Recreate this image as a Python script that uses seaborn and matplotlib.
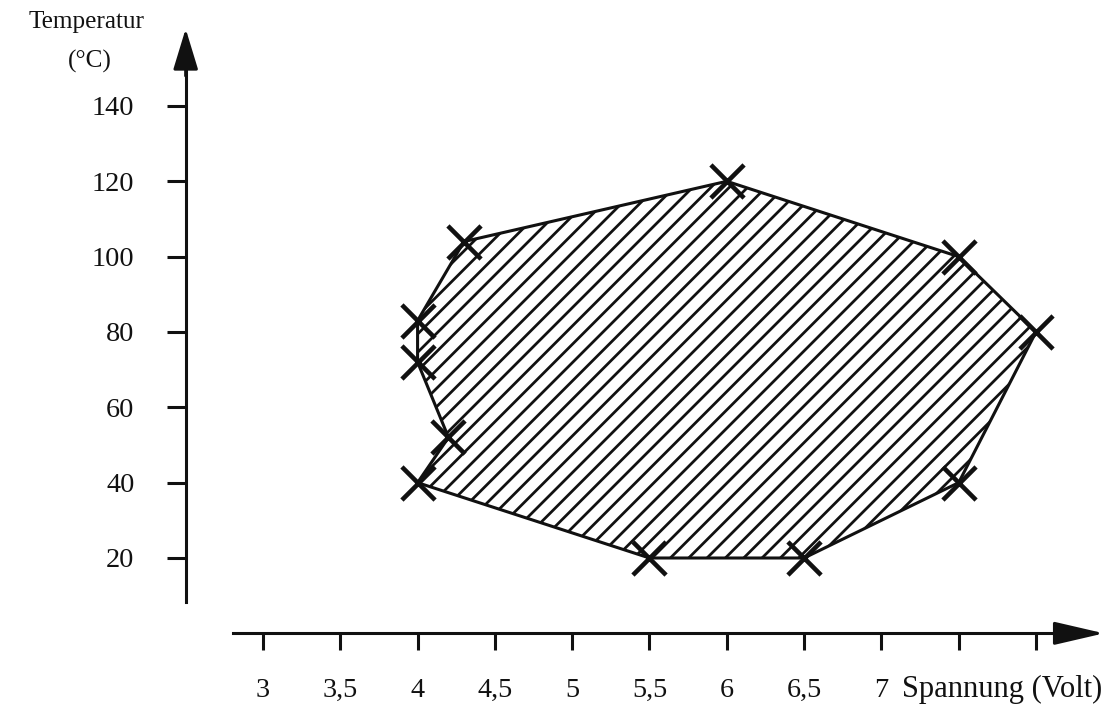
import matplotlib
matplotlib.use("Agg")
import matplotlib.pyplot as plt
import seaborn as sns
import pandas as pd

# Operating region: supply voltage (V) against temperature (°C)
spannung = [4.0, 5.5, 6.5, 7.5, 8.0, 7.5, 6.0, 4.3, 4.0, 4.0, 4.2]
temperatur = [40, 20, 20, 40, 80, 100, 120, 104, 83, 72, 52]

x_ticks = [3, 3.5, 4, 4.5, 5, 5.5, 6, 6.5, 7, 7.5, 8]
x_tick_labels = ["3", "3,5", "4", "4,5", "5", "5,5", "6", "6,5", "7", "", ""]
y_ticks = [20, 40, 60, 80, 100, 120, 140]
y_tick_labels = ["20", "40", "60", "80", "100", "120", "140"]

x_title = "Spannung (Volt)"
y_title = "Temperatur"
y_unit = "(°C)"

sns.set_theme(style="white")
plt.rcParams["font.family"] = ["Liberation Serif", "DejaVu Serif"]
plt.rcParams["hatch.linewidth"] = 1.8
plt.rcParams["hatch.color"] = "black"

INK = "#111111"
DPI = 110
fig = plt.figure(figsize=(1119 / DPI, 706 / DPI), dpi=DPI)
fig.patch.set_facecolor("white")
ax = fig.add_axes([0, 0, 1, 1])
ax.set_xlim(1.299, 8.537)
ax.set_ylim(-19.29, 168.13)
ax.patch.set_alpha(0)

df = pd.DataFrame({"Spannung": spannung, "Temperatur": temperatur})

# hatched operating area with its outline
ax.fill(df["Spannung"], df["Temperatur"], facecolor="white", edgecolor=INK,
        hatch="//", lw=2.0, joinstyle="round", zorder=2)
# measured corner points
sns.scatterplot(data=df, x="Spannung", y="Temperatur", marker="x", s=470,
                color=INK, linewidth=3.0, ax=ax, zorder=3)
ax.set_xlabel("")
ax.set_ylabel("")

# axis lines crossing away from the origin, with arrow heads
for s in ["top", "right"]:
    ax.spines[s].set_visible(False)
ax.spines["left"].set_position(("data", 2.5))
ax.spines["bottom"].set_position(("data", 0))
ax.spines["left"].set_bounds(8.3, 150)
ax.spines["bottom"].set_bounds(2.806, 8.2)
for s in ["left", "bottom"]:
    ax.spines[s].set_linewidth(2.0)
    ax.spines[s].set_color(INK)

ax.annotate("", xy=(2.5, 160.5), xytext=(2.5, 148),
            arrowprops=dict(arrowstyle="-|>,head_length=23,head_width=7",
                            mutation_scale=1, lw=2.0, color=INK,
                            shrinkA=0, shrinkB=0))
ax.annotate("", xy=(8.44, 0), xytext=(8.15, 0),
            arrowprops=dict(arrowstyle="-|>,head_length=28,head_width=6.5",
                            mutation_scale=1, lw=2.0, color=INK,
                            shrinkA=0, shrinkB=0))

ax.set_xticks(x_ticks)
ax.set_xticklabels(x_tick_labels)
ax.set_yticks(y_ticks)
ax.set_yticklabels(y_tick_labels)
ax.tick_params(axis="x", bottom=True, direction="out", length=11, width=2,
               pad=18, labelsize=18.5, color=INK, labelcolor=INK)
ax.tick_params(axis="y", left=True, direction="out", length=12.5, width=2,
               pad=21, labelsize=18.5, color=INK, labelcolor=INK)

ax.text(7.133, -16.9, x_title, ha="left", va="baseline", fontsize=20, color=INK)
ax.text(1.862, 160.7, y_title, ha="center", va="baseline", fontsize=16.5, color=INK)
ax.text(1.881, 151.7, y_unit, ha="center", va="center", fontsize=16.5, color=INK)

fig.savefig("out.png", dpi=DPI, facecolor="white")
